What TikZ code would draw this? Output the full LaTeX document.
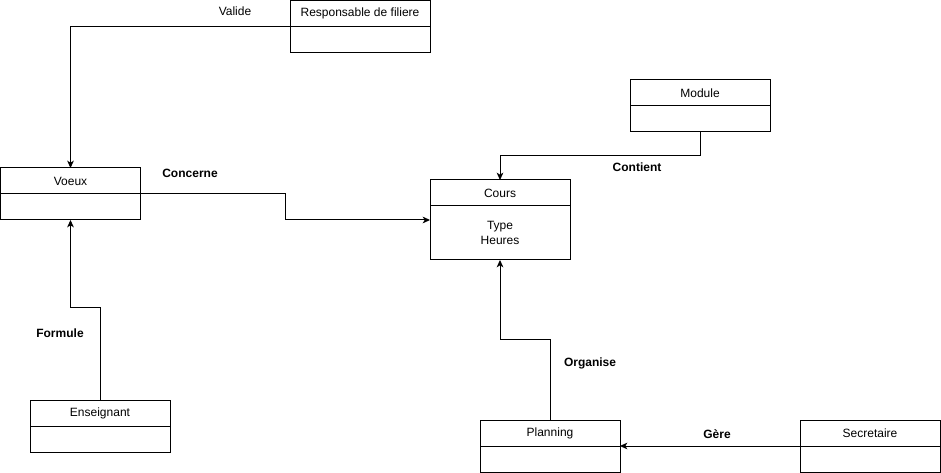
\documentclass[tikz,border=0pt]{standalone}
\usepackage{fontspec}
\setmainfont{Liberation Sans}
\usetikzlibrary{
    arrows.meta,
    positioning
}
\tikzset{
    classhead/.style={rectangle, draw, line width=0.75pt, inner sep=0pt, outer sep=0pt,
        minimum width=105pt, minimum height=19.5pt, anchor=north west},
    classbody/.style={rectangle, draw, line width=0.75pt, inner sep=0pt, outer sep=0pt,
        minimum width=105pt, minimum height=19.5pt, align=center},
    link/.style={line width=0.75pt, -{Stealth[length=5.5pt, width=5pt, inset=1.5pt]}},
    rolename/.style={font=\bfseries\fontsize{9pt}{11.25pt}\selectfont}
}

\begin{document}
\begin{tikzpicture}[x=0.75pt, y=-0.75pt, font=\fontsize{9pt}{11.25pt}\selectfont]
    \useasboundingbox (0, 0) rectangle (941, 473);

    \node[classhead] (resp) at (290, 0.5) {Responsable de filiere};
    \node[classbody, below=0pt of resp] (resp-b) {};
    \node[classhead] (voeux) at (0.5, 168) {Voeux};
    \node[classbody, below=0pt of voeux] (voeux-b) {};
    \node[classhead] (cours) at (430, 180) {Cours};
    \node[classbody, below=0pt of cours, minimum height=40.5pt] (cours-b) {Type\\Heures};
    \node[classhead] (module) at (630, 80) {Module};
    \node[classbody, below=0pt of module] (module-b) {};
    \node[classhead] (ens) at (30, 400) {Enseignant};
    \node[classbody, below=0pt of ens] (ens-b) {};
    \node[classhead] (plan) at (480, 420) {Planning};
    \node[classbody, below=0pt of plan] (plan-b) {};
    \node[classhead] (secr) at (800, 420) {Secretaire};
    \node[classbody, below=0pt of secr] (secr-b) {};

    \coordinate (cours-in) at (430, 220);

    \draw[link] (resp.south west) -| (voeux.north);
    \draw[link] (voeux.south east) -- ++(145, 0) |- (cours-in);
    \draw[link] (module-b.south) -- ++(0, 24) -| (cours.north);
    \draw[link] (ens.north) -- ++(0, -92) -| (voeux-b.south);
    \draw[link] (plan.north) -- ++(0, -80) -| (cours-b.south);
    \draw[link] (secr.south west) -- (plan.south east);

    \node (valide) at (235, 11) {Valide};
    \node[rolename] (concerne) at (190, 173) {Concerne};
    \node[rolename] (contient) at (637, 167) {Contient};
    \node[rolename] (formule) at (60, 333) {Formule};
    \node[rolename] (organise) at (590, 363) {Organise};
    \node[rolename] (gere) at (717, 434) {Gère};
\end{tikzpicture}
\end{document}
